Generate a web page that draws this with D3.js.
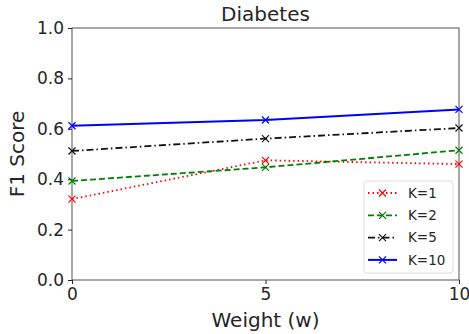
<!DOCTYPE html>
<html lang="en">
<head>
<meta charset="UTF-8">
<title>Diabetes</title>
<style>
  body { margin: 0; background: #fff; }
  text { font-family: "DejaVu Sans", sans-serif; fill: #262626; }
  .axis path, .axis line { stroke: #262626; }
</style>
<script src="https://d3js.org/d3.v7.min.js"></script>
</head>
<body>
<script>
// data
const weights = [0, 5, 10];
const k1 = [0.321, 0.475, 0.460];
const k2 = [0.393, 0.447, 0.515];
const k5 = [0.512, 0.561, 0.603];
const k10 = [0.612, 0.635, 0.677];
const yTicks = [0.0, 0.2, 0.4, 0.6, 0.8, 1.0];

const series = [
  { name: "K=1", values: k1, color: "red", dash: "1.5,3", width: 1.8 },
  { name: "K=2", values: k2, color: "green", dash: "6,3", width: 1.8 },
  { name: "K=5", values: k5, color: "#111", dash: "7,3,1.5,3", width: 1.8 },
  { name: "K=10", values: k10, color: "blue", dash: null, width: 2 }
];

const width = 469, height = 334;
const margin = { top: 28, right: 10, bottom: 54, left: 72 };

const svg = d3.select("body").append("svg")
  .attr("width", width)
  .attr("height", height);

const x = d3.scaleLinear().domain([0, 10]).range([margin.left, width - margin.right]);
const y = d3.scaleLinear().domain([0, 1]).range([height - margin.bottom, margin.top]);

// frame
svg.append("rect")
  .attr("x", x(0)).attr("y", y(1))
  .attr("width", x(10) - x(0)).attr("height", y(0) - y(1))
  .attr("fill", "none").attr("stroke", "#262626").attr("stroke-width", 0.8);

svg.append("g").attr("class", "axis")
  .attr("transform", `translate(0,${y(0)})`)
  .call(d3.axisBottom(x).tickValues(weights).tickSize(4).tickPadding(4))
  .call(g => g.select(".domain").remove())
  .selectAll("text").style("font-size", "17px");

svg.append("g").attr("class", "axis")
  .attr("transform", `translate(${x(0)},0)`)
  .call(d3.axisLeft(y).tickValues(yTicks).tickFormat(d3.format(".1f")).tickSize(4).tickPadding(4))
  .call(g => g.select(".domain").remove())
  .selectAll("text").style("font-size", "17px");

// lines
const line = d3.line().x((d, i) => x(weights[i])).y(d => y(d));

function cross(g, cx, cy, color, s) {
  g.append("path")
    .attr("d", `M${cx - s},${cy - s}L${cx + s},${cy + s}M${cx - s},${cy + s}L${cx + s},${cy - s}`)
    .attr("stroke", color).attr("stroke-width", 1.2).attr("fill", "none");
}

series.forEach(s => {
  const g = svg.append("g");
  g.append("path")
    .datum(s.values)
    .attr("d", line)
    .attr("fill", "none")
    .attr("stroke", s.color)
    .attr("stroke-width", s.width)
    .attr("stroke-dasharray", s.dash);
  s.values.forEach((v, i) => cross(g, x(weights[i]), y(v), s.color, 3.5));
});

// title and labels
svg.append("text")
  .attr("x", (x(0) + x(10)) / 2).attr("y", 21)
  .attr("text-anchor", "middle").style("font-size", "20px")
  .text("Diabetes");

svg.append("text")
  .attr("x", (x(0) + x(10)) / 2).attr("y", 327)
  .attr("text-anchor", "middle").style("font-size", "20px")
  .text("Weight (w)");

svg.append("text")
  .attr("transform", `translate(24,${(y(0) + y(1)) / 2}) rotate(-90)`)
  .attr("text-anchor", "middle").style("font-size", "20px")
  .text("F1 Score");

// legend
const lg = svg.append("g").attr("transform", "translate(364,181)");
lg.append("rect")
  .attr("width", 89).attr("height", 92).attr("rx", 3)
  .attr("fill", "white").attr("fill-opacity", 0.8)
  .attr("stroke", "#ddd");

series.forEach((s, i) => {
  const cy = 12 + i * 22.3;
  lg.append("line")
    .attr("x1", 4).attr("x2", 33).attr("y1", cy).attr("y2", cy)
    .attr("stroke", s.color).attr("stroke-width", s.width)
    .attr("stroke-dasharray", s.dash);
  cross(lg, 18.5, cy, s.color, 3.5);
  lg.append("text")
    .attr("x", 44).attr("y", cy).attr("dy", "0.36em")
    .style("font-size", "13.5px")
    .text(s.name);
});
</script>
</body>
</html>
